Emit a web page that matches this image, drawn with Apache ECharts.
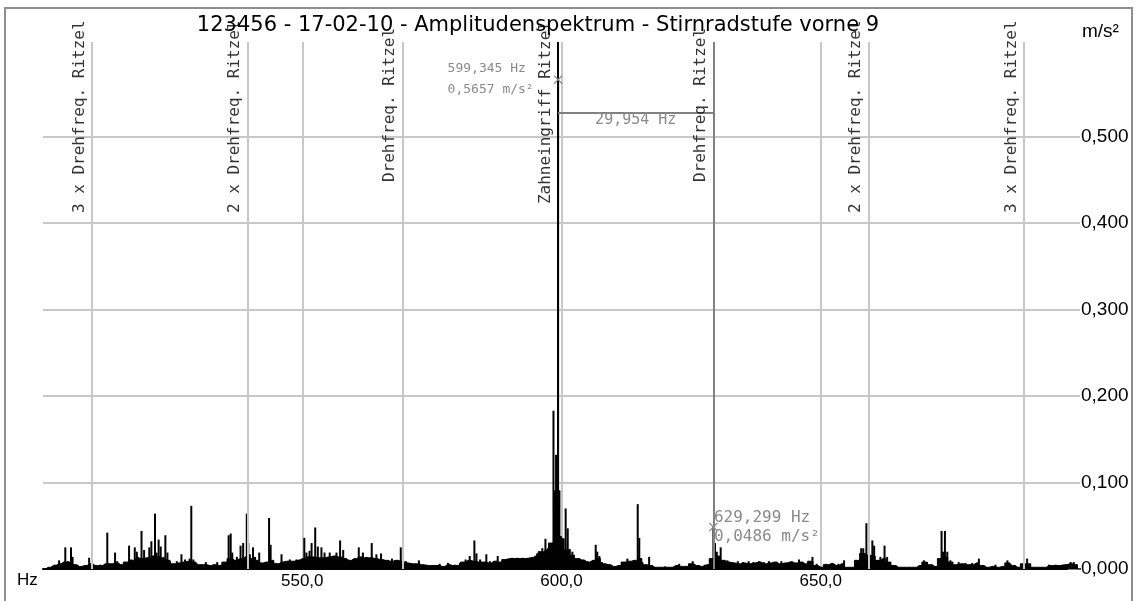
<!DOCTYPE html>
<html>
<head>
<meta charset="utf-8">
<script src="https://cdn.jsdelivr.net/npm/echarts@6/dist/echarts.min.js"></script>
<style>
  html, body { margin: 0; padding: 0; background: #ffffff; }
  #chart { width: 1136px; height: 601px; }
</style>
</head>
<body>
<div id="chart"></div>
<script>
// ---- data ----
const titleText = '123456 - 17-02-10 - Amplitudenspektrum - Stirnradstufe vorne 9';
const xUnit = 'Hz';
const yUnit = 'm/s²';
const xTicks = [550, 600, 650];
const yTicks = [0, 0.1, 0.2, 0.3, 0.4, 0.5];

// broadband floor of the spectrum, one value per Hz starting at floorStartHz
const floorStartHz = 500;
const floorLevels = [
  0, 0.002, 0.004, 0.006, 0.008, 0.008, 0.005, 0.003, 0.004, 0.006,
  0.004, 0.004, 0.006, 0.006, 0.007, 0.005, 0.008, 0.010, 0.012, 0.012,
  0.013, 0.015, 0.014, 0.012, 0.010, 0.006, 0.007, 0.008, 0.009, 0.008,
  0.005, 0.005, 0.004, 0.005, 0.004, 0.008, 0.012, 0.010, 0.012, 0.014,
  0.012, 0.010, 0.007, 0.008, 0.010, 0.006, 0.008, 0.009, 0.009, 0.010,
  0.012, 0.014, 0.014, 0.013, 0.013, 0.014, 0.015, 0.014, 0.012, 0.010,
  0.012, 0.014, 0.013, 0.013, 0.012, 0.011, 0.010, 0.009, 0.010, 0.009,
  0.007, 0.006, 0.006, 0.005, 0.004, 0.004, 0.004, 0.003, 0.005, 0.004,
  0.004, 0.008, 0.010, 0.009, 0.008, 0.008, 0.007, 0.009, 0.008, 0.011,
  0.012, 0.012, 0.012, 0.012, 0.013, 0.015, 0.020, 0.022, 0.030, 0.070,
  0.035, 0.022, 0.016, 0.012, 0.010, 0.008, 0.010, 0.012, 0.006, 0.005,
  0.003, 0.004, 0.008, 0.009, 0.010, 0.012, 0.005, 0.004, 0.002, 0.002,
  0.002, 0.002, 0.004, 0.003, 0.003, 0.006, 0.004, 0.003, 0.005, 0.012,
  0.015, 0.010, 0.008, 0.007, 0.006, 0.007, 0.006, 0.007, 0.008, 0.006,
  0.007, 0.008, 0.006, 0.007, 0.008, 0.007, 0.008, 0.006, 0.009, 0.004,
  0.002, 0.005, 0.006, 0.004, 0.006, 0.002, 0.002, 0.010, 0.018, 0.016,
  0.015, 0.010, 0.012, 0.008, 0.004, 0.002, 0.002, 0.002, 0.002, 0.004,
  0.008, 0.005, 0.003, 0.012, 0.014, 0.008, 0.005, 0.006, 0.005, 0.005,
  0.007, 0.004, 0.002, 0.003, 0.002, 0.003, 0.007, 0.004, 0.002, 0.006,
  0.006, 0.002, 0.002, 0.002, 0.004, 0.004, 0.004, 0.005, 0.006, 0.005, 0
];

// discrete spectral lines [Hz, m/s²]
const peaks = [
  [502.3,0.005],[503.1,0.010],[504.3,0.025],[504.8,0.009],[505.4,0.025],[505.7,0.014],[506.4,0.005],
  [508.9,0.013],[509.7,0.006],[511.0,0.005],[512.4,0.042],[513.2,0.006],[513.9,0.019],[514.3,0.009],
  [515.2,0.005],[516.0,0.006],[516.6,0.027],[517.0,0.011],[517.7,0.025],[518.1,0.020],[518.4,0.014],
  [519.0,0.044],[519.5,0.022],[520.0,0.011],[520.5,0.025],[520.9,0.032],[521.6,0.064],[521.9,0.019],
  [522.3,0.034],[522.7,0.026],[523.2,0.014],[523.6,0.039],[524.0,0.019],[524.5,0.009],[525.1,0.006],
  [525.8,0.009],[526.7,0.017],[527.4,0.011],[527.9,0.009],[528.3,0.012],[528.6,0.073],[529.0,0.011],
  [529.6,0.007],[531.4,0.008],[531.8,0.005],[532.8,0.005],[533.6,0.008],[534.4,0.005],[535.8,0.039],
  [536.2,0.041],[536.5,0.019],[537.0,0.009],[537.4,0.014],[538.1,0.027],[538.6,0.030],[539.3,0.064],
  [539.6,0.030],[539.9,0.017],[540.5,0.025],[540.9,0.014],[541.7,0.019],[542.4,0.007],[543.6,0.059],
  [543.9,0.028],[544.4,0.009],[545.0,0.007],[546.0,0.017],[546.6,0.009],[547.6,0.011],[548.2,0.009],
  [548.9,0.011],[549.5,0.011],[550.4,0.036],[550.8,0.019],[551.4,0.021],[551.8,0.030],[552.5,0.048],
  [553.0,0.026],[553.7,0.025],[554.3,0.019],[555.3,0.019],[555.9,0.014],[556.6,0.019],[557.3,0.033],
  [557.9,0.022],[558.5,0.011],[559.1,0.009],[559.8,0.011],[560.9,0.025],[561.7,0.019],[562.4,0.014],
  [563.4,0.030],[564.3,0.017],[565.2,0.018],[566.5,0.010],[567.3,0.012],[568.0,0.010],[569.0,0.025],
  [570.0,0.009],[571.0,0.007],[572.5,0.010],[574.0,0.005],[576.5,0.006],[578.1,0.007],[579.5,0.005],
  [580.4,0.007],[581.5,0.011],[582.3,0.015],[583.2,0.033],[583.6,0.018],[584.3,0.011],[585.5,0.017],
  [586.2,0.009],[587.7,0.015],[588.6,0.010],[589.6,0.012],[590.5,0.013],[591.5,0.013],[592.5,0.013],
  [593.5,0.013],[594.4,0.014],[595.3,0.018],[595.7,0.020],[596.3,0.024],[596.9,0.035],[597.4,0.024],
  [597.9,0.015],[598.45,0.183],[598.7,0.091],[598.95,0.132],[599.345,0.5657],[599.6,0.091],[599.9,0.038],
  [600.3,0.030],[600.8,0.070],[601.2,0.047],[601.6,0.023],[602.1,0.020],[602.6,0.012],[603.3,0.010],
  [604.2,0.011],[605.0,0.009],[606.1,0.010],[606.6,0.028],[606.9,0.020],[607.3,0.015],[607.8,0.008],
  [608.5,0.006],[609.2,0.005],[611.0,0.004],[612.7,0.012],[613.5,0.008],[614.2,0.009],[614.7,0.075],
  [615.0,0.036],[615.6,0.008],[616.9,0.014],[620.0,0.003],[622.7,0.006],[625.3,0.009],[627.6,0.005],
  [628.7,0.010],[629.299,0.0486],[629.6,0.030],[629.95,0.020],[630.3,0.012],[630.7,0.025],[631.2,0.010],
  [632.0,0.010],[633.0,0.008],[634.0,0.009],[635.0,0.008],[636.1,0.009],[637.0,0.008],[638.1,0.009],
  [639.0,0.008],[640.0,0.009],[641.2,0.007],[642.4,0.009],[643.4,0.007],[644.4,0.009],[645.8,0.011],
  [647.6,0.009],[648.4,0.014],[649.2,0.006],[651.0,0.006],[652.2,0.007],[653.4,0.006],[654.5,0.010],
  [657.8,0.024],[658.2,0.024],[658.8,0.053],[659.3,0.024],[659.95,0.033],[660.3,0.027],[660.9,0.010],
  [661.5,0.014],[662.3,0.027],[662.8,0.014],[663.4,0.008],[664.1,0.004],[669.9,0.010],[670.5,0.008],
  [673.3,0.044],[673.6,0.020],[673.95,0.044],[674.4,0.020],[675.0,0.010],[676.6,0.008],[677.9,0.007],
  [679.2,0.007],[680.5,0.012],[683.7,0.005],[686.0,0.010],[686.6,0.006],[689.2,0.012],[689.8,0.012],
  [694.0,0.005],[695.3,0.005],[696.6,0.005],[698.2,0.008],[698.8,0.008]
];

// kinematic marker frequencies and their names
const markerFreqs = [509.483, 539.437, 569.391, 599.345, 629.299, 659.253, 689.207];
const markerNames = [
  '3 x Drehfreq. Ritzel', '2 x Drehfreq. Ritzel', 'Drehfreq. Ritzel',
  'Zahneingriff Ritzel',
  'Drehfreq. Ritzel', '2 x Drehfreq. Ritzel', '3 x Drehfreq. Ritzel'
];

// cursor readouts [Hz, m/s²]
const cursorPoints = [[599.345, 0.5657], [629.299, 0.0486]];

// ---- drawing ----
const fmt = (v, d) => v.toFixed(d).replace('.', ',');
const Y_TOP = 0.60925;           // value at the upper edge of the plot
const MEAS_LEVEL = 0.528;         // height of the delta-cursor bar
const GRID_GREY = '#c8c8c8';
const READ_GREY = '#8a8a8a';
const MONO = '"DejaVu Sans Mono", monospace';
const SANS = '"Liberation Sans", Arial, sans-serif';

const markerColors = [GRID_GREY, GRID_GREY, GRID_GREY, '#000000', '#808080', GRID_GREY, GRID_GREY];
const markerLift = [355, 355, 386, 364, 386, 355, 355];

const deltaHz = cursorPoints[1][0] - cursorPoints[0][0];

const chart = echarts.init(document.getElementById('chart'), null, { renderer: 'canvas' });

const xCross = 'path://M0,1L1,0L5,4L9,0L10,1L6,5L10,9L9,10L5,6L1,10L0,9L4,5Z';

const option = {
  animation: false,
  backgroundColor: '#ffffff',
  grid: { left: 43, right: 56, top: 42, bottom: 32, containLabel: false },
  xAxis: {
    type: 'value', min: 500, max: 700, interval: 50,
    axisLine: { lineStyle: { color: '#000', width: 2 } },
    axisTick: { show: false },
    splitLine: { show: false },
    axisLabel: {
      showMinLabel: false, showMaxLabel: false,
      formatter: v => fmt(v, 1),
      color: '#000', fontFamily: SANS, fontSize: 17, margin: 4
    }
  },
  yAxis: {
    type: 'value', position: 'right', min: 0, max: Y_TOP, interval: 0.1,
    axisLine: { show: false },
    axisTick: { show: true, inside: true, length: 12, customValues: yTicks,
      lineStyle: { color: '#7f7f7f', width: 2 } },
    axisLabel: { customValues: yTicks, formatter: v => (v > 0.55 ? '' : fmt(v, 3)),
      color: '#000', fontFamily: SANS, fontSize: 19, margin: 1 },
    splitLine: { show: false }
  },
  graphic: [
    { type: 'rect', silent: true, z: 0,
      shape: { x: 5, y: 8, width: 1127, height: 600 },
      style: { fill: 'none', stroke: '#8e8e8e', lineWidth: 2 } },
    { type: 'text', silent: true, x: 538, y: 26,
      style: { text: titleText, font: '21px "DejaVu Sans"', fill: '#000',
        textAlign: 'center', textVerticalAlign: 'middle', align: 'center', verticalAlign: 'middle' } },
    { type: 'text', silent: true, x: 1082, y: 32,
      style: { text: yUnit, font: '19px "Liberation Sans"', fill: '#000',
        textAlign: 'left', textVerticalAlign: 'middle', align: 'left', verticalAlign: 'middle' } },
    { type: 'text', silent: true, x: 17, y: 580,
      style: { text: xUnit, font: '17px "Liberation Sans"', fill: '#000',
        textAlign: 'left', textVerticalAlign: 'middle', align: 'left', verticalAlign: 'middle' } }
  ],
  series: [
    {
      // grid lines
      name: 'grid', type: 'line', data: [[500, 0]], symbol: 'none', silent: true,
      lineStyle: { opacity: 0 }, z: 1,
      markLine: {
        silent: true, z: 1, symbol: 'none', animation: false,
        label: { show: false },
        lineStyle: { color: GRID_GREY, width: 2, type: 'solid' },
        data: [
          ...xTicks.map(v => ({ xAxis: v })),
          ...yTicks.filter(v => v > 0).map(v => ({ yAxis: v }))
        ]
      }
    },
    {
      name: 'floor', type: 'line', step: 'middle', symbol: 'none', silent: true, z: 2,
      data: floorLevels.map((a, i) => [floorStartHz + i, a]),
      lineStyle: { color: '#000', width: 1 },
      areaStyle: { color: '#000', opacity: 1 }
    },
    {
      name: 'spectrum', type: 'bar', barWidth: 2, silent: true, z: 2,
      data: peaks,
      itemStyle: { color: '#000' },
      markLine: {
        silent: true, z: 3, symbol: 'none', animation: false,
        data: [
          ...markerFreqs.map((f, i) => ({
            xAxis: f, label: { show: false },
            lineStyle: { color: markerColors[i], width: 2, type: 'solid' }
          })),
          [
            { coord: [cursorPoints[0][0], MEAS_LEVEL],
              lineStyle: { color: '#808080', width: 2, type: 'solid' },
              label: { show: true, position: 'insideMiddleBottom', distance: 0,
                formatter: fmt(deltaHz, 3) + ' Hz',
                color: READ_GREY, fontFamily: MONO, fontSize: 15 } },
            { coord: [cursorPoints[1][0], MEAS_LEVEL] }
          ]
        ]
      },
      markPoint: {
        silent: true, animation: false, symbol: xCross, symbolSize: 9,
        itemStyle: { color: READ_GREY },
        data: [
          { coord: cursorPoints[0],
            label: { show: true, position: [-106, -17], align: 'left', verticalAlign: 'top',
              formatter: fmt(cursorPoints[0][0], 3) + ' Hz\n' + fmt(cursorPoints[0][1], 4) + ' m/s²',
              color: READ_GREY, fontFamily: MONO, fontSize: 13, lineHeight: 21 } },
          { coord: cursorPoints[1],
            label: { show: true, position: [5, -14], align: 'left', verticalAlign: 'top',
              formatter: fmt(cursorPoints[1][0], 3) + ' Hz\n' + fmt(cursorPoints[1][1], 4) + ' m/s²',
              color: READ_GREY, fontFamily: MONO, fontSize: 16, lineHeight: 19 } }
        ]
      }
    },
    {
      // rotated names of the marker lines
      name: 'markerNames', type: 'scatter', silent: true, z: 4,
      symbolSize: 1, itemStyle: { color: 'rgba(0,0,0,0)' },
      data: markerFreqs.map((f, i) => ({
        value: [f, 0.0005],
        label: {
          show: true, formatter: markerNames[i], position: [-4, -markerLift[i]],
          rotate: 90, align: 'left', verticalAlign: 'bottom',
          color: '#000', fontFamily: MONO, fontSize: 16
        }
      }))
    }
  ]
};

chart.setOption(option);
</script>
</body>
</html>
